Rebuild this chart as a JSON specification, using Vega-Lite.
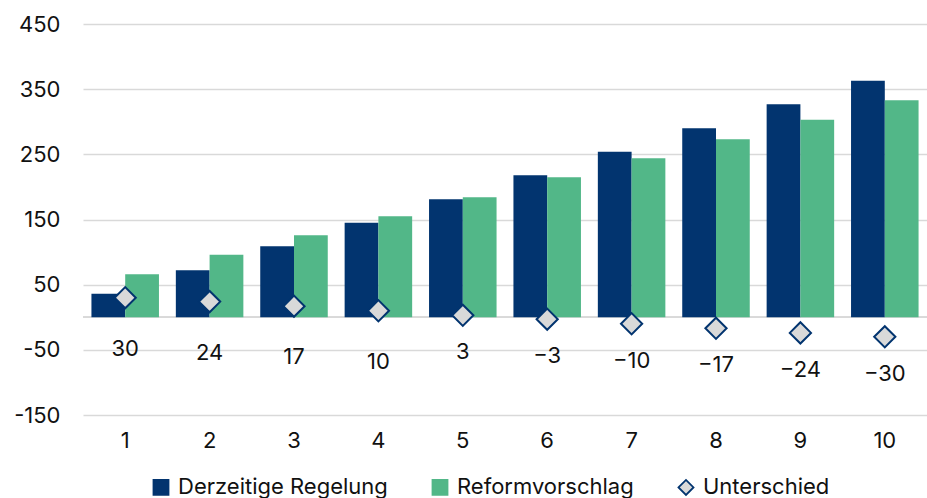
{
  "$schema": "https://vega.github.io/schema/vega-lite/v6.json",
  "width": 844,
  "height": 391,
  "autosize": {"type": "none"},
  "padding": {"left": 83, "top": 24, "right": 0, "bottom": 83},
  "config": {
    "font": "Inter",
    "view": {"stroke": null},
    "axis": {"labelFont": "Inter", "labelFontSize": 22, "labelColor": "#111111", "domain": false, "ticks": false, "title": null},
    "legend": {"labelFont": "Inter", "labelFontSize": 22, "labelColor": "#111111", "symbolSize": 225, "symbolStrokeWidth": 1.8, "labelOffset": 6, "columnPadding": 40, "labelLimit": 400, "padding": 0}
  },
  "data": {
    "values": [
      {"x": 1, "series": "Derzeitige Regelung", "value": 36},
      {"x": 2, "series": "Derzeitige Regelung", "value": 72},
      {"x": 3, "series": "Derzeitige Regelung", "value": 109},
      {"x": 4, "series": "Derzeitige Regelung", "value": 145},
      {"x": 5, "series": "Derzeitige Regelung", "value": 181},
      {"x": 6, "series": "Derzeitige Regelung", "value": 218},
      {"x": 7, "series": "Derzeitige Regelung", "value": 254},
      {"x": 8, "series": "Derzeitige Regelung", "value": 290},
      {"x": 9, "series": "Derzeitige Regelung", "value": 327},
      {"x": 10, "series": "Derzeitige Regelung", "value": 363},
      {"x": 1, "series": "Reformvorschlag", "value": 66},
      {"x": 2, "series": "Reformvorschlag", "value": 96},
      {"x": 3, "series": "Reformvorschlag", "value": 126},
      {"x": 4, "series": "Reformvorschlag", "value": 155},
      {"x": 5, "series": "Reformvorschlag", "value": 184},
      {"x": 6, "series": "Reformvorschlag", "value": 215},
      {"x": 7, "series": "Reformvorschlag", "value": 244},
      {"x": 8, "series": "Reformvorschlag", "value": 273},
      {"x": 9, "series": "Reformvorschlag", "value": 303},
      {"x": 10, "series": "Reformvorschlag", "value": 333},
      {"x": 1, "series": "Unterschied", "value": 30},
      {"x": 2, "series": "Unterschied", "value": 24},
      {"x": 3, "series": "Unterschied", "value": 17},
      {"x": 4, "series": "Unterschied", "value": 10},
      {"x": 5, "series": "Unterschied", "value": 3},
      {"x": 6, "series": "Unterschied", "value": -3},
      {"x": 7, "series": "Unterschied", "value": -10},
      {"x": 8, "series": "Unterschied", "value": -17},
      {"x": 9, "series": "Unterschied", "value": -24},
      {"x": 10, "series": "Unterschied", "value": -30}
    ]
  },
  "encoding": {
    "x": {
      "field": "x", "type": "ordinal",
      "scale": {"paddingInner": 0.2, "paddingOuter": 0.1},
      "axis": {"labelAngle": 0, "labelPadding": 15, "grid": false}
    }
  },
  "layer": [
    {
      "mark": {"type": "rule", "color": "#d9d9d9", "strokeWidth": 1.5},
      "encoding": {
        "y": {"datum": 0, "type": "quantitative", "scale": {"domain": [-150, 450]}},
        "x": null
      }
    },
    {
      "transform": [{"filter": "datum.series !== 'Unterschied'"}],
      "mark": {"type": "bar", "strokeWidth": 0},
      "encoding": {
        "xOffset": {"field": "series", "type": "nominal", "scale": {"domain": ["Derzeitige Regelung", "Reformvorschlag"], "paddingInner": 0}},
        "y": {
          "field": "value", "type": "quantitative",
          "scale": {"domain": [-150, 450]},
          "axis": {"values": [-150, -50, 50, 150, 250, 350, 450], "grid": true, "gridColor": "#d9d9d9", "gridWidth": 1.5, "labelPadding": 23, "labelExpr": "replace(datum.label, '\u2212', '-')"}
        },
        "fill": {
          "field": "series", "type": "nominal",
          "scale": {"domain": ["Derzeitige Regelung", "Reformvorschlag", "Unterschied"], "range": ["#02346f", "#52b788", "#d9d9d9"]},
          "legend": {"title": null, "orient": "none", "legendX": 67, "legendY": 452, "direction": "horizontal"}
        },
        "stroke": {
          "field": "series", "type": "nominal",
          "scale": {"domain": ["Derzeitige Regelung", "Reformvorschlag", "Unterschied"], "range": ["#02346f", "#52b788", "#02346f"]},
          "legend": {"title": null, "orient": "none", "legendX": 67, "legendY": 452, "direction": "horizontal"}
        }
      }
    },
    {
      "transform": [{"filter": "datum.series === 'Unterschied'"}],
      "mark": {"type": "point", "filled": true, "size": 450, "strokeWidth": 2, "opacity": 1},
      "encoding": {
        "y": {"field": "value", "type": "quantitative"},
        "fill": {"field": "series", "type": "nominal"},
        "stroke": {"field": "series", "type": "nominal"},
        "shape": {
          "field": "series", "type": "nominal",
          "scale": {"domain": ["Derzeitige Regelung", "Reformvorschlag", "Unterschied"], "range": ["square", "square", "diamond"]},
          "legend": {"title": null, "orient": "none", "legendX": 67, "legendY": 452, "direction": "horizontal"}
        }
      }
    },
    {
      "transform": [{"filter": "datum.series === 'Unterschied' && datum.value > 3"}],
      "mark": {"type": "text", "fontSize": 22, "color": "#111111", "dy": 51, "baseline": "middle"},
      "encoding": {
        "y": {"field": "value", "type": "quantitative"},
        "text": {"field": "value", "type": "quantitative", "format": "d"}
      }
    },
    {
      "transform": [{"filter": "datum.series === 'Unterschied' && datum.value <= 3"}],
      "mark": {"type": "text", "fontSize": 22, "color": "#111111", "dy": 37, "baseline": "middle"},
      "encoding": {
        "y": {"field": "value", "type": "quantitative"},
        "text": {"field": "value", "type": "quantitative", "format": "d"}
      }
    }
  ]
}
